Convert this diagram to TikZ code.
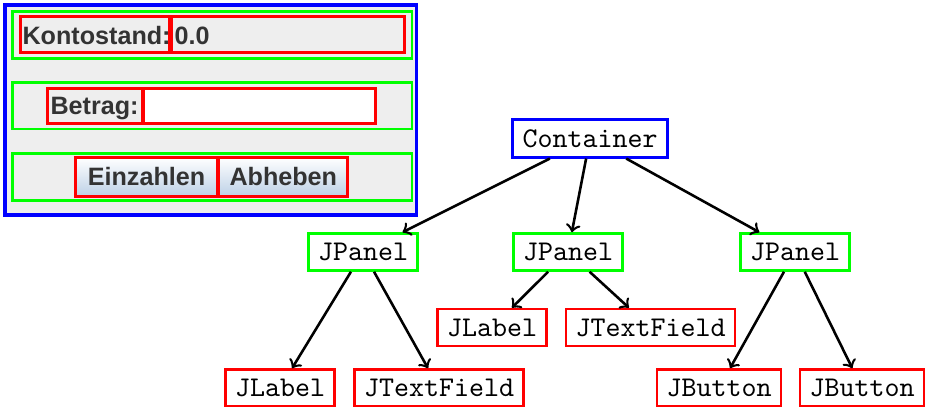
\documentclass[tikz,border=0pt]{standalone}
\usepackage{fontspec}
\newfontfamily\guifont{Liberation Sans}
\definecolor{guigray}{HTML}{EEEEEE}
\definecolor{guitext}{HTML}{333333}
\definecolor{btnblue}{RGB}{188,208,230}

\begin{document}
\begin{tikzpicture}[x=0.35pt,y=-0.35pt,
        box/.style={draw,line width=0.95pt,font=\ttfamily},
        frame/.style={box,draw=blue,line width=1.05pt},
        panel/.style={box,draw=green},
        comp/.style={box,draw=red},
        edge/.style={->,line width=0.9pt},
        gui/.style={font=\guifont\bfseries\fontsize{8.8}{10}\selectfont,text=guitext,inner sep=0pt},
        guiline/.style={line width=0.85pt}]
        \useasboundingbox (0,0) rectangle (926,406);

        % the window
        \draw[guiline,blue,fill=guigray,line width=1.1pt](5,5) rectangle (416.5,215);
        \foreach \ya/\yb in {11.7/58.3, 82.3/129, 153.7/200.3}
            \draw[guiline,green](12.7,\ya) rectangle (412,\yb);
        \draw[guiline,red](20.7,16.7) rectangle (169.3,52.3);
        \draw[guiline,red](171.7,16.7) rectangle (404.3,52.3);
        \draw[guiline,red,fill=white](142.7,88.3) rectangle (375.7,123.3);
        \draw[guiline,red](47.3,88.3) rectangle (143.3,123.3);
        \draw[guiline,red,top color=white,bottom color=btnblue](75.7,157.3) rectangle (217.3,196.7);
        \draw[guiline,red,top color=white,bottom color=btnblue](219,157.3) rectangle (347.7,196.7);

        \node[gui,anchor=base west](kto)at(22,45){Kontostand:};
        \node[gui,anchor=base west](kval)at(174,45){0.0};
        \node[gui,anchor=base west](betr)at(50,114.3){Betrag:};
        \node[gui,anchor=base](einz)at(146.5,185.7){Einzahlen};
        \node[gui,anchor=base](abh)at(283.3,185.7){Abheben};

        % component tree
        \node[frame](cont)at(590,138.5){Container};
        \node[panel](pa)at(363,252){JPanel};
        \node[panel](pb)at(568,252){JPanel};
        \node[panel](pc)at(795,252){JPanel};
        \node[comp](la)at(280,388){JLabel};
        \node[comp](ta)at(439,388){JTextField};
        \node[comp](lb)at(492,327.5){JLabel};
        \node[comp](tb)at(650.5,327.5){JTextField};
        \node[comp](ba)at(719,388){JButton};
        \node[comp](bb)at(862,388){JButton};

        \foreach \p in {pa,pb,pc}
            \draw[edge](cont)--(\p);
        \draw[edge](pa)--(la);
        \draw[edge](pa)--(ta);
        \draw[edge](pb)--(lb);
        \draw[edge](pb)--(tb);
        \draw[edge](pc)--(ba);
        \draw[edge](pc)--(bb);
    \end{tikzpicture}
\end{document}
